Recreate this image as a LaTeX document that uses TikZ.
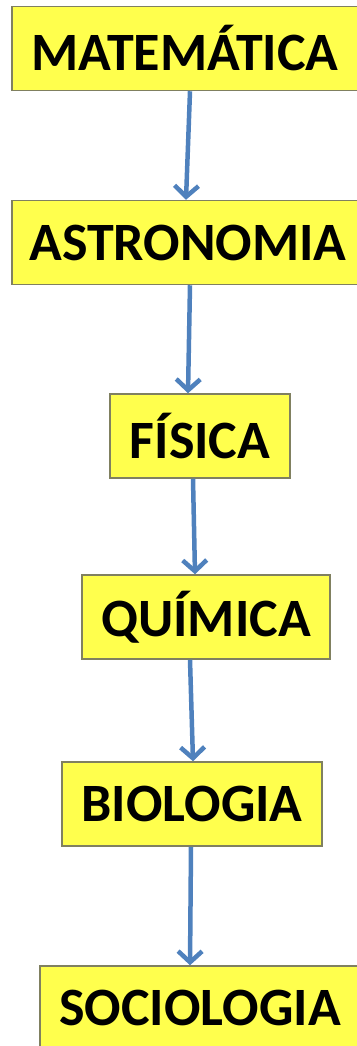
\documentclass[tikz,border=0pt]{standalone}
\usepackage{fontspec}
\setmainfont{Carlito}
\usetikzlibrary{arrows.meta}
\definecolor{boxfill}{RGB}{255,255,77}
\definecolor{boxline}{RGB}{128,128,96}
\definecolor{arrowblue}{RGB}{79,129,189}
\tikzstyle{science} = [rectangle,
minimum height=84pt,
text centered,
draw=boxline,
line width=1.5pt,
fill=boxfill,
font=\fontsize{54}{60}\selectfont\bfseries]
\tikzstyle{arrow} = [arrowblue, line width=4.5pt, -{Straight Barb[length=11pt, width=24pt]}]

\begin{document}
\begin{tikzpicture}[x=1pt, y=-1pt]
\useasboundingbox (0,0) rectangle (356,1046);

% Nodes
\node (mat) [science, minimum width=346pt] at (185,48.5) {MATEMÁTICA};

\node (ast) [science, minimum width=352pt] at (188,242.5) {ASTRONOMIA};

\node (fis) [science, minimum width=180pt] at (200,436) {FÍSICA};

\node (qui) [science, minimum width=248pt] at (206,617) {QUÍMICA};

\node (bio) [science, minimum width=260pt] at (192,804) {BIOLOGIA};

\node (soc) [science, minimum width=320pt] at (200,1008) {SOCIOLOGIA};

% Connections
\draw [arrow] ([xshift=5pt]mat.south) -- ([xshift=-2pt]ast.north);
\draw [arrow] ([xshift=2pt]ast.south) -- ([xshift=-12pt]fis.north);
\draw [arrow] ([xshift=-7pt]fis.south) -- ([xshift=-11pt]qui.north);
\draw [arrow] ([xshift=-16pt]qui.south) -- ([xshift=1pt]bio.north);
\draw [arrow] ([xshift=-1pt]bio.south) -- ([xshift=-10pt]soc.north);

\end{tikzpicture}
\end{document}
